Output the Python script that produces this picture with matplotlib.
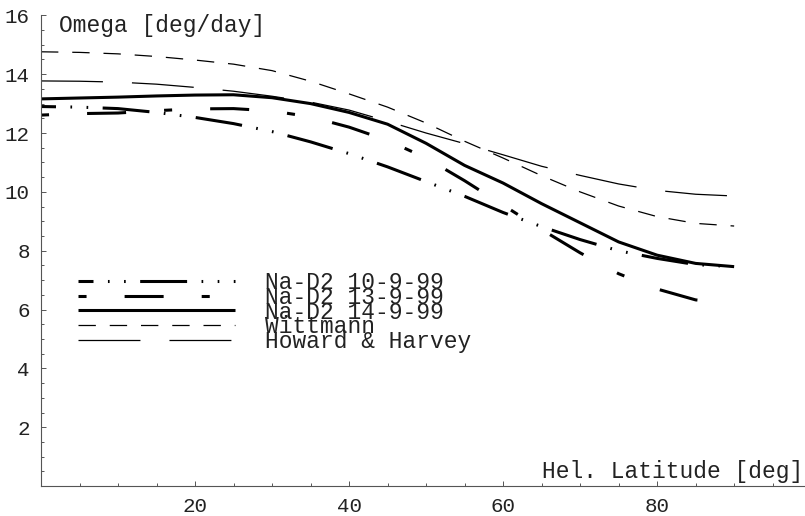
import matplotlib
matplotlib.use("Agg")
import matplotlib.pyplot as plt
import numpy as np

plt.rcParams['font.family'] = ['Liberation Mono', 'DejaVu Sans Mono']
plt.rcParams['lines.scale_dashes'] = False

# --- data (heliographic latitude in deg, omega in deg/day) ---
latitude = [0, 5, 10, 15, 20, 25, 30, 35, 40, 45, 50, 55, 60, 65, 70, 75, 80, 85, 90]
na_d2_10 = [12.90, 12.88, 12.83, 12.70, 12.53, 12.32, 12.05, 11.70, 11.30, 10.85,
            10.35, 9.85, 9.30, 8.82, 8.38, 8.00, 7.74, 7.53, 7.46]
na_d2_13 = [12.61, 12.66, 12.68, 12.76, 12.82, 12.83, 12.75, 12.55, 12.20, 11.75,
            11.15, 10.38, 9.55, 8.72, 7.93, 7.22, 6.70, 6.33, 6.21]
na_d2_14 = [13.16, 13.19, 13.22, 13.26, 13.29, 13.30, 13.20, 13.00, 12.70, 12.30,
            11.65, 10.90, 10.30, 9.60, 8.95, 8.30, 7.85, 7.57, 7.46]
wittmann = [14.76, 14.74, 14.69, 14.60, 14.48, 14.34, 14.12, 13.76, 13.33, 12.88,
            12.34, 11.72, 11.15, 10.55, 10.00, 9.52, 9.16, 8.93, 8.84]
howard_harvey = [13.77, 13.76, 13.73, 13.66, 13.55, 13.42, 13.25, 13.05, 12.78, 12.40,
                 12.00, 11.64, 11.26, 10.87, 10.56, 10.27, 10.05, 9.92, 9.86]

series = [na_d2_10, na_d2_13, na_d2_14, wittmann, howard_harvey]
labels = ["Na-D2 10-9-99", "Na-D2 13-9-99", "Na-D2 14-9-99", "Wittmann", "Howard & Harvey"]

# line styles (dash lengths in points, not scaled by width)
styles = [
    dict(lw=2.2, ls=(23, (33.8, 10.4, 1.2, 10.4, 1.2, 10.4))),
    dict(lw=2.2, ls=(0, (5.8, 27.4, 28.1, 27.4))),
    dict(lw=2.2, ls='-'),
    dict(lw=0.9, ls=(0, (12.5, 10.0))),
    dict(lw=0.9, ls=(0, (44.6, 20.9))),
]

fig = plt.figure(figsize=(8.05, 5.16), dpi=100)
ax = fig.add_axes([41 / 805, 1 - 486.2 / 516, 764 / 805, 486.2 / 516])

for vals, lab, st in zip(series, labels, styles):
    ax.plot(latitude, vals, color='black', label=lab, linewidth=st['lw'],
            linestyle=st['ls'], dash_capstyle='butt', solid_capstyle='butt')

ax.set_xlim(0, 99.2)
ax.set_ylim(0, 16.52)

for side in ['top', 'right']:
    ax.spines[side].set_visible(False)
ax.spines['left'].set_bounds(0, 16)
for side in ['left', 'bottom']:
    ax.spines[side].set_color('#555555')
    ax.spines[side].set_linewidth(0.8)

ax.set_xticks([20, 40, 60, 80])
ax.set_xticks([v for v in range(5, 100, 5) if v % 20 != 0], minor=True)
ax.set_yticks(range(2, 17, 2))
ax.set_yticks([v for v in np.arange(0.5, 16.01, 0.5) if v % 2 != 0], minor=True)

ax.tick_params(which='both', direction='in', color='#555555', width=0.7,
               labelsize=15, pad=8, labelcolor='#222222')
ax.tick_params(which='major', length=3.6)
ax.tick_params(which='minor', length=2.2)

ax.text(2.3, 15.67, "Omega [deg/day]", fontsize=16.5, ha='left', va='center',
        color='#222222')
fig.text(803 / 805, 1 - 471.7 / 516, "Hel. Latitude [deg]", fontsize=16.5,
         ha='right', va='center', color='#222222')

leg = ax.legend(loc='upper left', bbox_to_anchor=(78 / 805, 1 - 271 / 516),
                bbox_transform=fig.transFigure, frameon=False, fontsize=16.5,
                handlelength=6.85, handletextpad=1.3, labelspacing=-0.36,
                borderpad=0, borderaxespad=0)
for t in leg.get_texts():
    t.set_color('#222222')

fig.savefig("out.png", dpi=100)
